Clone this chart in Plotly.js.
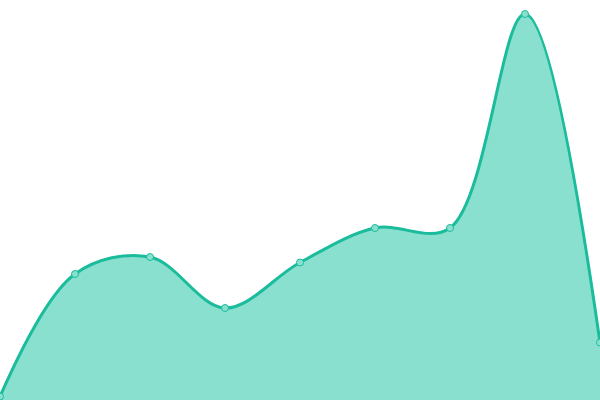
<!DOCTYPE html>
<html>
<head>
<meta charset="utf-8">
<script src="https://cdn.plot.ly/plotly-3.0.1.min.js"></script>
<style>html,body{margin:0;padding:0;background:#fff;}#chart{width:600px;height:400px;}</style>
</head>
<body>
<div id="chart"></div>
<script>
const xValues = [0, 1, 2, 3, 4, 5, 6, 7, 8];
const yValues = [3.5, 126, 143, 92, 137.5, 172, 172, 386, 57.5];

Plotly.newPlot('chart', [{
  x: xValues,
  y: yValues,
  type: 'scatter',
  mode: 'lines+markers',
  fill: 'tozeroy',
  fillcolor: '#8ae0cf',
  line: {color: '#1abc9c', width: 3, shape: 'spline', smoothing: 1},
  marker: {size: 7, color: '#8ae0cf', line: {color: '#1abc9c', width: 1}},
  hoverinfo: 'none'
}], {
  width: 600, height: 400,
  margin: {l: 0, r: 0, t: 0, b: 0, pad: 0},
  paper_bgcolor: '#fff', plot_bgcolor: '#fff',
  showlegend: false,
  xaxis: {range: [0, 8], visible: false, fixedrange: true},
  yaxis: {range: [0, 400], visible: false, fixedrange: true}
}, {displayModeBar: false, staticPlot: true});
</script>
</body>
</html>
